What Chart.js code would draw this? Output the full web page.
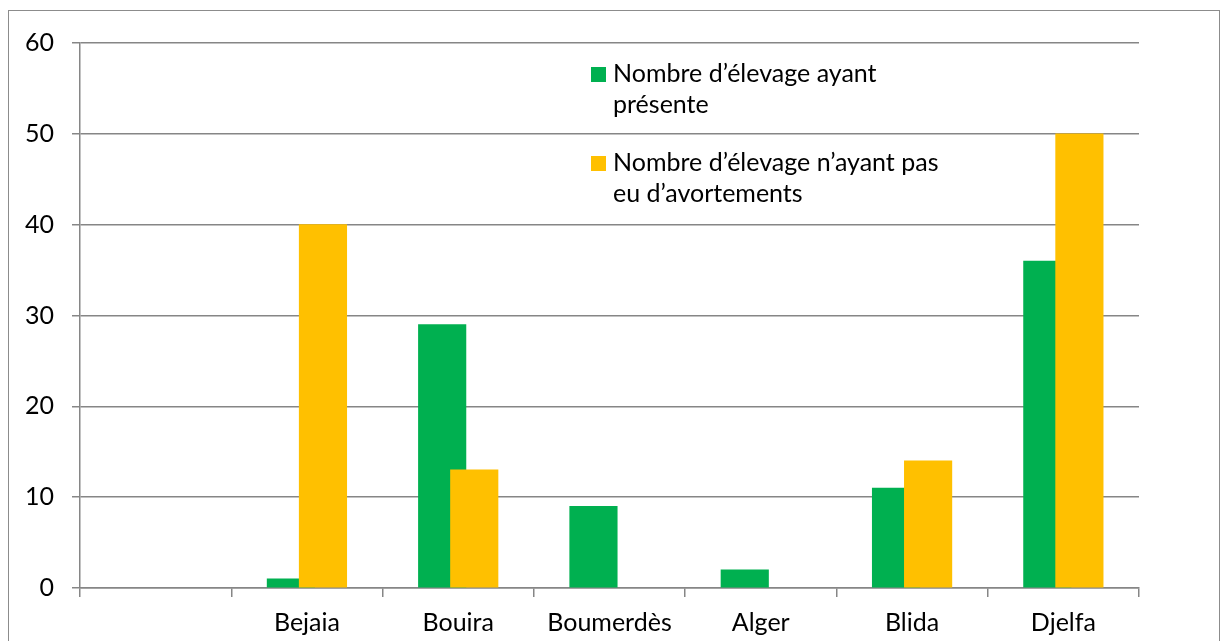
<!DOCTYPE html>
<html>
<head>
<meta charset="utf-8">
<script src="https://cdn.jsdelivr.net/npm/chart.js@4"></script>
<style>
  html, body { margin: 0; padding: 0; background: #fff; overflow: hidden; }
  canvas { position: absolute; left: 0; top: 0; }
  #cadre { position: absolute; left: 8px; top: 10px; width: 1210px; height: 660px;
           border: 1px solid #8c8c8c; pointer-events: none; }
</style>
</head>
<body>
<canvas id="graphe" width="1224" height="641"></canvas>
<div id="cadre"></div>
<script>
// Données
const regions = ['', 'Bejaia', 'Bouira', 'Boumerdès', 'Alger', 'Blida', 'Djelfa'];
const avecAvortements = [null, 1, 29, 9, 2, 11, 36];
const sansAvortements = [null, 40, 13, null, null, 14, 50];
const legendeAvec = ['Nombre d’élevage ayant', 'présente'];
const legendeSans = ['Nombre d’élevage n’ayant pas', 'eu d’avortements'];
const yTicks = { min: 0, max: 60, step: 10 };

const police = 'Lato';
const gris = '#868686';
// les barres se chevauchent : décalage de chaque série par rapport au centre de la catégorie
const decalage = 0.106;

const points = (valeurs, dx) => valeurs.map((v, i) => ({ x: i + dx, y: v }));

// légende dessinée dans la zone du graphe, sur deux lignes par entrée
const legendeInterne = {
  id: 'legendeInterne',
  afterDraw(chart) {
    const ctx = chart.ctx;
    ctx.save();
    ctx.font = '25px ' + police;
    ctx.textBaseline = 'middle';
    [0, 1].forEach(i => {
      const ds = chart.data.datasets[i];
      const y = 74 + i * 89;
      ctx.fillStyle = ds.backgroundColor;
      ctx.fillRect(591, y - 7, 15, 15);
      ctx.fillStyle = '#000';
      ds.lignes.forEach((t, j) => ctx.fillText(t, 613, y + j * 31));
    });
    ctx.restore();
  }
};

const ctx = document.getElementById('graphe').getContext('2d');
new Chart(ctx, {
  type: 'bar',
  data: {
    labels: regions,
    datasets: [{
      label: legendeAvec.join(' '),
      lignes: legendeAvec,
      data: points(avecAvortements, -decalage),
      backgroundColor: '#00B050',
      order: 2
    }, {
      label: legendeSans.join(' '),
      lignes: legendeSans,
      data: points(sansAvortements, decalage),
      backgroundColor: '#FFC000',
      order: 1
    }]
  },
  options: {
    responsive: false,
    animation: false,
    datasets: { bar: { xAxisID: 'xb', grouped: false, barThickness: 47.5 } },
    layout: { padding: { left: 0, right: 85, top: 43, bottom: 0 } },
    plugins: {
      legend: { display: false },
      tooltip: { enabled: false }
    },
    scales: {
      xb: { type: 'linear', min: -0.5, max: regions.length - 0.5, offset: false,
            grid: { offset: false }, display: false },
      x: {
        type: 'category',
        offset: true,
        afterFit: s => { s.height = 53; },
        grid: { offset: true, drawOnChartArea: false, drawTicks: true, tickLength: 9, color: gris, lineWidth: 1.5 },
        border: { color: gris, width: 1.5 },
        ticks: { color: '#000', font: { family: police, size: 25 }, padding: 11, maxRotation: 0, autoSkip: false }
      },
      y: {
        min: yTicks.min,
        max: yTicks.max,
        afterFit: s => { s.width = 80; },
        grid: { color: gris, lineWidth: 1.5, tickLength: 8 },
        border: { color: gris, width: 1.5 },
        ticks: { stepSize: yTicks.step, color: '#000', font: { family: police, size: 25 }, padding: 18 }
      }
    }
  },
  plugins: [legendeInterne]
});
</script>
</body>
</html>
